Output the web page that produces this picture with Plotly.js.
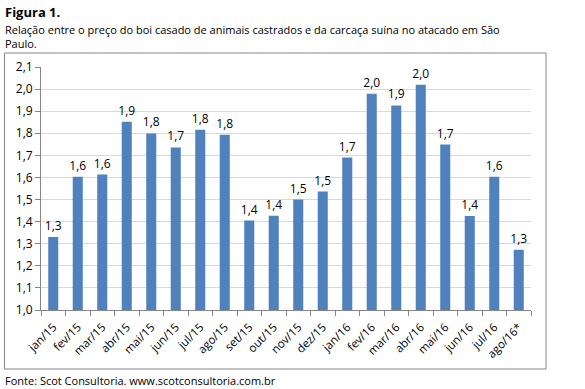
<!DOCTYPE html>
<html>
<head>
<meta charset="utf-8">
<script src="https://cdn.plot.ly/plotly-3.0.1.min.js"></script>
<style>
html,body{margin:0;padding:0;background:#fff;}
#chart{width:585px;height:389px;}
</style>
</head>
<body>
<div id="chart"></div>
<script>
const months = ["jan/15","fev/15","mar/15","abr/15","mai/15","jun/15","jul/15","ago/15","set/15","out/15","nov/15","dez/15","jan/16","fev/16","mar/16","abr/16","mai/16","jun/16","jul/16","ago/16*"];
const ratio = [1.331,1.603,1.613,1.852,1.799,1.736,1.816,1.793,1.405,1.427,1.500,1.536,1.690,1.979,1.926,2.020,1.749,1.426,1.603,1.273];
const yTicks = [1.0,1.1,1.2,1.3,1.4,1.5,1.6,1.7,1.8,1.9,2.0,2.1];

const FONT = "Open Sans, DejaVu Sans, sans-serif";

const trace = {
  type: "bar",
  x: months,
  y: ratio,
  marker: {color: "#4f81bd"},
  texttemplate: "%{y:.1f}",
  textposition: "outside",
  constraintext: "none",
  textfont: {family: FONT, size: 12, color: "#000"},
  cliponaxis: false,
  hoverinfo: "none"
};

const L = 41, R = 531, T = 67, B = 310;
const px = x => (x - L) / (R - L);
const py = y => (B - y) / (B - T);

const layout = {
  width: 585, height: 389,
  margin: {l: L, r: 585 - R, t: T, b: 389 - B, pad: 0},
  separators: ",.",
  paper_bgcolor: "#fff",
  plot_bgcolor: "#fff",
  showlegend: false,
  bargap: 0.59,
  font: {family: FONT, size: 12, color: "#000"},
  xaxis: {
    type: "category",
    tickangle: -45,
    ticks: "outside",
    tickson: "boundaries",
    ticklen: 5,
    tickcolor: "#868686",
    showline: true,
    linecolor: "#868686",
    linewidth: 1,
    showgrid: false,
    ticklabelstandoff: 5,
    tickfont: {family: FONT, size: 11.5, color: "#000"},
    fixedrange: true
  },
  yaxis: {
    range: [1.0, 2.1],
    tickvals: yTicks,
    tickformat: ".1f",
    ticks: "outside",
    ticklen: 5,
    tickcolor: "#868686",
    showline: true,
    linecolor: "#868686",
    linewidth: 1,
    showgrid: true,
    gridcolor: "#d9d9d9",
    zeroline: false,
    tickfont: {family: FONT, size: 12, color: "#000"},
    fixedrange: true
  },
  shapes: [{
    type: "rect", xref: "paper", yref: "paper",
    x0: px(4.5), x1: px(546), y0: py(369), y1: py(53),
    line: {color: "#868686", width: 1}, fillcolor: "rgba(0,0,0,0)", layer: "below"
  }],
  annotations: [
    {xref: "paper", yref: "paper", x: px(3), y: py(12), xanchor: "left", yanchor: "middle",
     text: "<b>Figura 1.</b>", showarrow: false, align: "left",
     font: {family: FONT, size: 13, color: "#000"}},
    {xref: "paper", yref: "paper", x: px(3), y: py(36), xanchor: "left", yanchor: "middle",
     text: "Relação entre o preço do boi casado de animais castrados e da carcaça suína no atacado em São<br>Paulo.",
     showarrow: false, align: "left",
     font: {family: FONT, size: 11, color: "#000"}},
    {xref: "paper", yref: "paper", x: px(3), y: py(380), xanchor: "left", yanchor: "middle",
     text: "Fonte: Scot Consultoria. www.scotconsultoria.com.br", showarrow: false, align: "left",
     font: {family: FONT, size: 11, color: "#000"}}
  ]
};

Plotly.newPlot("chart", [trace], layout, {displayModeBar: false, staticPlot: true});
</script>
</body>
</html>
